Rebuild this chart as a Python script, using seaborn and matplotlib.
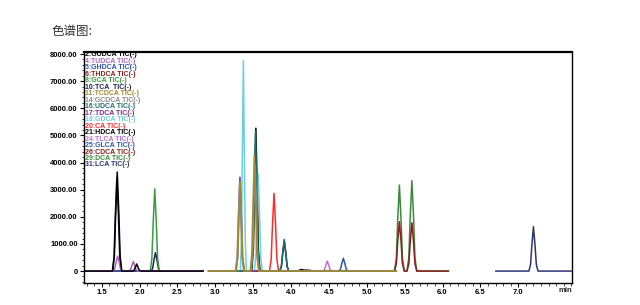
import matplotlib
matplotlib.use("Agg")
import matplotlib.pyplot as plt
from matplotlib.ticker import MultipleLocator, FixedLocator, FuncFormatter
import seaborn as sns
import pandas as pd

sns.set_theme(style="white")
plt.rcParams['font.family'] = ['Liberation Sans Narrow', 'Liberation Sans', 'DejaVu Sans']

# ---------------- data ----------------
labels = ["2:GUDCA TIC(-)", "4:TUDCA TIC(-)", "5:GHDCA TIC(-)", "6:THDCA TIC(-)",
          "8:GCA TIC(-)", "10:TCA  TIC(-)", "11:TCDCA TIC(-)", "14:GCDCA TIC(-)",
          "16:UDCA TIC(-)", "17:TDCA TIC(-)", "18:GDCA TIC(-)", "20:CA TIC(-)",
          "21:HDCA TIC(-)", "24:TLCA TIC(-)", "25:GLCA TIC(-)", "26:CDCA TIC(-)",
          "29:DCA TIC(-)", "31:LCA TIC(-)"]
colors = ["#000000", "#b060c0", "#2f50b0", "#8b1c1c",
          "#3d9a42", "#1c2450", "#a08a2a", "#8c8c8c",
          "#1f7070", "#7b2d8e", "#6ccfdc", "#ff2a2a",
          "#000000", "#c070d0", "#2f55b0", "#8b1f1f",
          "#3a8a3a", "#2e3470"]

t_gudca = [1.27, 1.645, 1.667, 1.685, 1.705, 1.725, 1.743, 1.765, 1.91, 1.93, 1.947, 1.962, 1.977, 1.994, 2.015, 2.84]
v_gudca = [0, 0, 550, 2190, 3650, 2190, 550, 0, 0, 40, 155, 260, 155, 40, 0, 0]
t_tudca = [1.27, 1.65, 1.672, 1.69, 1.71, 1.73, 1.748, 1.77, 1.86, 1.88, 1.899, 1.917, 1.935, 1.954, 1.975, 2.84]
v_tudca = [0, 0, 80, 330, 550, 330, 80, 0, 0, 50, 210, 350, 210, 50, 0, 0]
t_ghdca = [1.27, 2.84]
v_ghdca = [0, 0]
t_thdca = [1.27, 2.84]
v_thdca = [0, 0]
t_gca = [1.27, 2.14, 2.162, 2.18, 2.20, 2.22, 2.238, 2.26, 2.84]
v_gca = [0, 0, 455, 1820, 3030, 1820, 455, 0, 0]
t_tca = [1.27, 1.64, 1.662, 1.68, 1.70, 1.72, 1.738, 1.76, 2.15, 2.172, 2.19, 2.21, 2.23, 2.248, 2.27, 2.84]
v_tca = [0, 0, 520, 2070, 3450, 2070, 520, 0, 0, 100, 410, 680, 410, 100, 0, 0]
t_tcdca = [2.91, 3.275, 3.297, 3.313, 3.33, 3.347, 3.363, 3.385, 3.46, 3.482, 3.498, 3.515, 3.532, 3.548, 3.57, 5.39]
v_tcdca = [0, 0, 495, 1980, 3300, 1980, 495, 0, 0, 640, 2570, 4280, 2570, 640, 0, 0]
t_gcdca = [2.91, 3.265, 3.287, 3.303, 3.32, 3.337, 3.353, 3.375, 3.47, 3.492, 3.508, 3.525, 3.542, 3.558, 3.58, 5.39]
v_gcdca = [0, 0, 490, 1950, 3250, 1950, 490, 0, 0, 585, 2340, 3900, 2340, 585, 0, 0]
t_udca = [2.91, 3.475, 3.497, 3.513, 3.53, 3.547, 3.563, 3.585, 3.85, 3.872, 3.89, 3.91, 3.93, 3.948, 3.97, 5.39]
v_udca = [0, 0, 770, 3090, 5150, 3090, 770, 0, 0, 175, 700, 1170, 700, 175, 0, 0]
t_tdca = [2.91, 3.27, 3.292, 3.308, 3.325, 3.342, 3.358, 3.38, 5.39]
v_tdca = [0, 0, 520, 2080, 3460, 2080, 520, 0, 0]
t_gdca = [2.91, 3.33, 3.345, 3.358, 3.37, 3.382, 3.395, 3.41, 3.515, 3.535, 3.551, 3.567, 3.583, 3.599, 3.62, 5.39]
v_gdca = [0, 0, 1160, 4650, 7760, 4650, 1160, 0, 0, 535, 2140, 3570, 2140, 535, 0, 0]
t_ca = [2.91, 3.715, 3.737, 3.755, 3.775, 3.795, 3.813, 3.835, 5.39]
v_ca = [0, 0, 430, 1720, 2865, 1720, 430, 0, 0]
t_hdca = [2.91, 3.48, 3.502, 3.518, 3.535, 3.552, 3.568, 3.59, 3.85, 3.872, 3.89, 3.91, 3.93, 3.948, 3.97,
          4.08, 4.11, 4.14, 4.17, 4.20, 4.26, 4.30, 5.39]
v_hdca = [0, 0, 790, 3160, 5265, 3160, 790, 0, 0, 165, 660, 1100, 660, 165, 0,
          0, 30, 60, 30, 35, 20, 0, 0]
t_tlca = [2.91, 4.42, 4.442, 4.46, 4.478, 4.496, 4.514, 4.535, 5.39]
v_tlca = [0, 0, 55, 220, 370, 220, 55, 0, 0]
t_glca = [2.91, 4.63, 4.652, 4.67, 4.69, 4.71, 4.728, 4.75, 5.39]
v_glca = [0, 0, 70, 280, 470, 280, 70, 0, 0]
t_cdca = [5.33, 5.365, 5.39, 5.408, 5.43, 5.452, 5.47, 5.495, 5.53, 5.555, 5.573, 5.595, 5.617, 5.635, 5.66, 6.08]
v_cdca = [0, 0, 270, 1090, 1820, 1090, 270, 0, 0, 270, 1070, 1780, 1070, 270, 0, 0]
t_dca = [5.33, 5.365, 5.39, 5.408, 5.43, 5.452, 5.47, 5.495, 5.53, 5.555, 5.573, 5.595, 5.617, 5.635, 5.66, 6.08]
v_dca = [0, 0, 475, 1900, 3170, 1900, 475, 0, 0, 500, 2000, 3330, 2000, 500, 0, 0]
t_lca = [6.70, 7.14, 7.162, 7.18, 7.20, 7.22, 7.238, 7.26, 7.70]
v_lca = [0, 0, 245, 980, 1635, 980, 245, 0, 0]

traces_t = [t_gudca, t_tudca, t_ghdca, t_thdca, t_gca, t_tca, t_tcdca, t_gcdca, t_udca,
            t_tdca, t_gdca, t_ca, t_hdca, t_tlca, t_glca, t_cdca, t_dca, t_lca]
traces_v = [v_gudca, v_tudca, v_ghdca, v_thdca, v_gca, v_tca, v_tcdca, v_gcdca, v_udca,
            v_tdca, v_gdca, v_ca, v_hdca, v_tlca, v_glca, v_cdca, v_dca, v_lca]

y_ticks = [0, 1000, 2000, 3000, 4000, 5000, 6000, 7000, 8000]
x_ticks = [1.5, 2.0, 2.5, 3.0, 3.5, 4.0, 4.5, 5.0, 5.5, 6.0, 6.5, 7.0]

# ---------------- figure ----------------
fig = plt.figure(figsize=(6.4, 3.05), dpi=100)
ax = fig.add_axes([84/640, 1-283/305, (572-84)/640, (283-52)/305])

rows = []
for lab, ts, vs in zip(labels, traces_t, traces_v):
    for k, (t, v) in enumerate(zip(ts, vs)):
        rows.append({"trace": lab, "t": t, "v": v, "k": k})
df = pd.DataFrame(rows)
pal = dict(zip(labels, colors))
# reverse so the earlier-listed traces end up on top
for lab in labels[::-1]:
    sub = df[df.trace == lab]
    sns.lineplot(data=sub, x="t", y="v", color=pal[lab], estimator=None, sort=False,
                 lw=1.1, ax=ax, legend=False)

ax.set_xlim(1.266, 7.709)
ax.set_ylim(-440, 8075)
ax.set_xlabel("")
ax.set_ylabel("")

for s in ax.spines.values():
    s.set_visible(True)
    s.set_color("black")
    s.set_linewidth(1.0)
ax.spines["top"].set_linewidth(1.6)

ax.yaxis.set_major_locator(FixedLocator(y_ticks))
ax.yaxis.set_minor_locator(MultipleLocator(200))
ax.xaxis.set_major_locator(FixedLocator(x_ticks))
ax.xaxis.set_minor_locator(MultipleLocator(0.1))
ax.yaxis.set_major_formatter(FuncFormatter(lambda v, p: "0" if v == 0 else f"{v:.2f}"))
ax.xaxis.set_major_formatter(FuncFormatter(lambda v, p: f"{v:.1f}"))
ax.tick_params(axis="both", which="major", direction="out", length=3, width=0.8,
               labelsize=5.5, pad=1.5, colors="black")
ax.tick_params(axis="both", which="minor", direction="out", length=1.8, width=0.6)
ax.tick_params(axis="x", which="both", bottom=True, top=False)
ax.tick_params(axis="y", which="both", left=True, right=False)
for lbl in ax.get_xticklabels() + ax.get_yticklabels():
    lbl.set_fontweight("bold")

ax.text(565/640, 1-291/305, "min", transform=fig.transFigure, fontsize=5.5,
        fontweight="bold", ha="center", va="center")

# stacked legend texts
y0 = 55
for i, (lab, c) in enumerate(zip(labels, colors)):
    fig.text(85/640, 1-(y0 + i*6.47)/305, lab, color=c, fontsize=5.0, fontweight="bold",
             ha="left", va="center")

fig.text(52/640, 1-31/305, "色谱图:", fontsize=9, color="#333333", ha="left", va="center",
         family=['Noto Sans CJK SC', 'DejaVu Sans'])

fig.savefig("out.png", dpi=100)
